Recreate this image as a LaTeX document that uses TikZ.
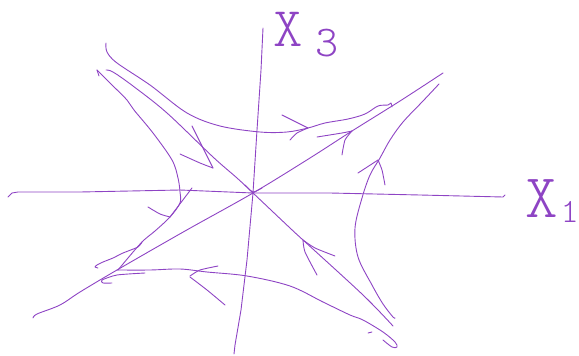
\documentclass[tikz,border=0pt]{standalone}
\usepackage{tikz}
\usetikzlibrary{calc}
\definecolor{pen}{RGB}{142,68,196}

\begin{document}
\begin{tikzpicture}[
    x=1pt, y=-1pt,
    stroke/.style={draw=pen, line width=0.9pt, line cap=round, line join=round},
    axis/.style={stroke},
    orbit/.style={stroke, smooth, tension=0.55},
    barb/.style={stroke, smooth, tension=0.4},
    handtext/.style={text=pen, inner sep=0pt,
        font=\fontfamily{lmtt}\fontseries{l}\selectfont}
]
\useasboundingbox (0,0) rectangle (579,356);

% === Saddle point ===
\coordinate (o) at (253,193);

% === Axes ===
\draw[axis] plot coordinates {(263,28) (261,70) (257,130) (o) (247,260) (241,310) (235,345) (234,354)};
\draw[axis] plot coordinates {(8,197) (12,193) (18,192) (80,192) (180,190) (o) (330,193) (420,195) (503,197) (505,195)};

\node[handtext, anchor=base west] (xthree) at (273,46)
    {\fontsize{56}{56}\selectfont X\kern13pt\raisebox{-10pt}{\fontsize{44}{44}\selectfont 3}};
\node[handtext, anchor=base west] (xone) at (525,217)
    {\fontsize{62}{62}\selectfont X\kern3pt\raisebox{-5pt}{\fontsize{34}{34}\selectfont 1}};

% === Separatrices ===
% unstable direction (lower left to upper right)
\draw[orbit] plot coordinates {(33,318) (37,314) (60,305) (80,292) (117,270) (185,231) (o) (310,158) (352,131) (400,101) (443,73)};
% stable direction (upper left to lower right)
\draw[orbit] plot coordinates {(106,70) (113,72) (133,86) (167,113) (213,157) (237,178) (o) (290,228) (303,240) (363,295) (393,326)};

% arrows on the separatrices
\draw[barb] plot coordinates {(192,126) (213,168)};
\draw[barb] plot coordinates {(180,154) (200,163) (213,168)};
\draw[barb] plot coordinates {(317,275) (305,252) (303,240)};
\draw[barb] plot coordinates {(335,256) (315,248) (303,240)};
\draw[barb] plot coordinates {(317,137) (342,133) (352,131)};
\draw[barb] plot coordinates {(342,155) (345,140) (352,131)};
\draw[barb] plot coordinates {(145,273) (117,275) (102,280) (103,283) (112,283)};
\draw[barb] plot coordinates {(245,185) (253,192) (262,188)};

% === Trajectories ===
% top
\draw[orbit] plot coordinates {(106,43) (107,52) (117,63) (150,85) (187,113) (220,126) (260,132) (287,132) (308,128) (325,123) (348,119) (365,114) (378,106) (388,105) (391,103) (392,107)};
\draw[barb] plot coordinates {(282,115) (308,128)};
\draw[barb] plot coordinates {(290,140) (297,133) (308,128)};

% right
\draw[orbit] plot coordinates {(439,84) (423,101) (403,122) (390,140) (380,158) (370,175) (362,198) (355,228) (358,257) (372,285) (383,304) (393,317) (395,318)};
\draw[barb] plot coordinates {(358,173) (378,160)};
\draw[barb] plot coordinates {(378,160) (382,170) (385,185)};

% bottom
\draw[orbit] plot coordinates {(117,270) (150,270) (180,269) (207,272) (247,276) (290,286) (323,302) (350,315) (363,320) (383,332) (395,342) (397,347) (392,347) (383,340)};
\draw[barb] plot coordinates {(218,266) (200,270) (190,276)};
\draw[barb] plot coordinates {(190,277) (207,290) (225,305)};
\draw[stroke] (368,333) -- (372,332);

% left
\draw[orbit] plot coordinates {(97,70) (110,83) (127,100) (134,110) (153,133) (172,160) (178,178) (180,192) (180,203) (170,217) (155,231) (141,243) (118,270)};
\draw[stroke] (97,70) -- (99,76);
\draw[barb] plot coordinates {(148,207) (160,214) (170,217)};
\draw[barb] plot coordinates {(192,188) (170,217)};
\draw[barb] plot coordinates {(98,268) (95,267) (97,265) (103,262) (113,258) (123,253) (138,247) (142,242)};

\end{tikzpicture}
\end{document}
